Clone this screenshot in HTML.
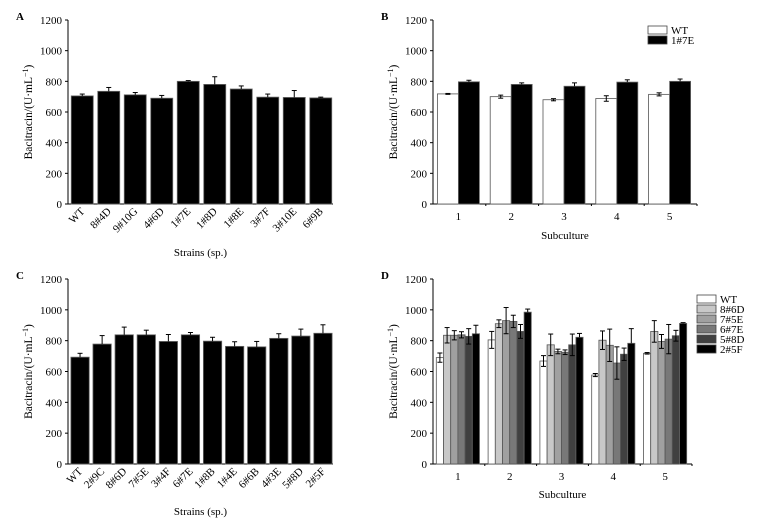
<!DOCTYPE html>
<html><head><meta charset="utf-8"><style>
html,body{margin:0;padding:0;background:#fff;}
svg{display:block;font-family:"Liberation Serif",serif;}
</style></head><body>
<svg id="fig" width="763" height="528" viewBox="0 0 763 528" xmlns="http://www.w3.org/2000/svg"></svg>
<script>
const yTicks=[0,200,400,600,800,1000,1200];
const aCats=["WT","8#4D","9#10G","4#6D","1#7E","1#8D","1#8E","3#7F","3#10E","6#9B"];
const aVals=[705,735,712,690,800,780,750,697,695,692];
const aErr=[12,25,15,18,5,50,20,20,45,5];
const cCats=["WT","2#9C","8#6D","7#5E","3#4F","6#7E","1#8B","1#4E","6#6B","4#3E","5#8D","2#5F"];
const cVals=[693,778,838,838,795,838,797,763,760,815,830,848];
const cErr=[25,55,50,30,45,15,25,30,35,30,45,55];
const subCats=["1","2","3","4","5"];
const bSeries=["WT","1#7E"];
const bWT=[718,700,680,688,715];
const bWTErr=[3,10,7,18,10];
const b17E=[797,780,768,795,800];
const b17EErr=[10,10,22,15,15];
const dSeries=["WT","8#6D","7#5E","6#7E","5#8D","2#5F"];
const dWT=[690,805,668,577,718];
const dWTErr=[30,55,35,10,5];
const d86D=[835,910,773,803,860];
const d86DErr=[50,25,70,60,70];
const d75E=[835,930,730,770,795];
const d75EErr=[30,85,15,105,45];
const d67E=[838,925,725,655,810];
const d67EErr=[20,40,15,105,95];
const d58D=[828,860,773,712,832];
const d58DErr=[50,45,70,40,35];
const d25F=[845,985,822,783,912];
const d25FErr=[55,20,25,95,5];

const NS="http://www.w3.org/2000/svg";
const svg=document.getElementById('fig');
function el(tag,attrs,parent,txt){const e=document.createElementNS(NS,tag);for(const k in attrs)e.setAttribute(k,attrs[k]);if(txt!==undefined)e.textContent=txt;(parent||svg).appendChild(e);return e;}

function panel(name,letter,x0,x1,yTop,yBot){
  const g=el('g',{});
  
  
  const y=v=>yBot-(v/1200)*(yBot-yTop);
  const t=el('text',{x:x0-52,y:yTop,'font-size':11,'font-weight':'bold'},g,letter);
  
  el('line',{x1:x0,y1:yTop,x2:x0,y2:yBot,stroke:'#000','stroke-width':1},g);
  el('line',{x1:x0,y1:yBot,x2:x1,y2:yBot,stroke:'#000','stroke-width':1},g);
  yTicks.forEach(v=>{
    el('line',{x1:x0-3,y1:y(v),x2:x0,y2:y(v),stroke:'#000'},g);
    const tl=el('text',{x:x0-6,y:y(v)+4,'font-size':11,'text-anchor':'end'},g,String(v));
    
  });
  const yt=el('text',{transform:`translate(${x0-36},${(yTop+yBot)/2}) rotate(-90)`,'font-size':11.5,'text-anchor':'middle'},g);
  
  el('tspan',{},yt,'Bacitracin/(U·mL');
  el('tspan',{'font-size':8,dy:-4},yt,'−1');
  el('tspan',{dy:4},yt,')');
  return {g,y};
}
function bar(g,x,w,v,e,fill,y,nm){
  const r=el('rect',{x:x,y:y(v),width:w,height:y(0)-y(v),fill:fill,stroke:fill==='#000'?'#666':'#555','stroke-width':0.8},g);
  
  const cx=x+w/2;
  el('line',{x1:cx,y1:y(v),x2:cx,y2:y(v+e),stroke:'#000','stroke-width':1},g);
  el('line',{x1:cx-2.5,y1:y(v+e),x2:cx+2.5,y2:y(v+e),stroke:'#000','stroke-width':1},g);
  if(fill!=='#000'){
    el('line',{x1:cx,y1:y(v),x2:cx,y2:y(v-e),stroke:'#000','stroke-width':1},g);
    el('line',{x1:cx-2.5,y1:y(v-e),x2:cx+2.5,y2:y(v-e),stroke:'#000','stroke-width':1},g);
  }
}
function strainPanel(name,letter,x0,x1,yTop,yBot,cats,vals,errs,titleY){
  const p=panel(name,letter,x0,x1,yTop,yBot);
  const step=(x1-x0)/cats.length, w=step*0.83;
  cats.forEach((c,i)=>{
    const bx=x0+step*i+(step-w)/2+1;
    bar(p.g,bx,w,vals[i],errs[i],'#000',p.y,'bar-'+c);
    const cx=bx+w/2+3;
    const tl=el('text',{transform:`translate(${cx},${yBot+8}) rotate(-45)`,'font-size':11,'text-anchor':'end'},p.g,c);
    
  });
  const xt=el('text',{x:(x0+x1)/2,y:titleY,'font-size':11,'text-anchor':'middle'},p.g,'Strains (sp.)');
  
}
strainPanel('panel-a','A',68,333,20,204,aCats,aVals,aErr,256);
strainPanel('panel-c','C',68,333,279,464,cCats,cVals,cErr,515);

function groupPanel(name,letter,x0,x1,yTop,yBot,series,vals,errs,fills,bw,titleY,legX,legY,legStep){
  const p=panel(name,letter,x0,x1,yTop,yBot);
  const step=(x1-x0)/subCats.length;
  subCats.forEach((c,i)=>{
    const cx=x0+step*(i+0.5)-1;
    const gw=bw*series.length;
    series.forEach((s,j)=>{
      bar(p.g,cx-gw/2+j*bw,bw,vals[j][i],errs[j][i],fills[j],p.y,'bar-'+s+'-'+c);
    });
    el('line',{x1:x0+step*(i+1),y1:yBot,x2:x0+step*(i+1),y2:yBot+2,stroke:'#000'},p.g);
    const tl=el('text',{x:cx,y:yBot+16,'font-size':11,'text-anchor':'middle'},p.g,c);
    
  });
  const xt=el('text',{x:(x0+x1)/2,y:titleY,'font-size':11,'text-anchor':'middle'},p.g,'Subculture');
  
  series.forEach((s,j)=>{
    const lg=el('g',{},p.g);
    
    
    el('rect',{x:legX,y:legY+j*legStep,width:19,height:legStep-2,fill:fills[j],stroke:'#444','stroke-width':0.8},lg);
    el('text',{x:legX+23,y:legY+j*legStep+legStep-2,'font-size':11},lg,s);
  });
}
groupPanel('panel-b','B',433,697,20,204,bSeries,[bWT,b17E],[bWTErr,b17EErr],['#fff','#000'],21,239,648,26,10);
groupPanel('panel-d','D',433,692,279,464,dSeries,[dWT,d86D,d75E,d67E,d58D,d25F],[dWTErr,d86DErr,d75EErr,d67EErr,d58DErr,d25FErr],['#fff','#c8c8c8','#a0a0a0','#787878','#404040','#000'],7.2,498,697,295,10);
</script>
</body></html>
